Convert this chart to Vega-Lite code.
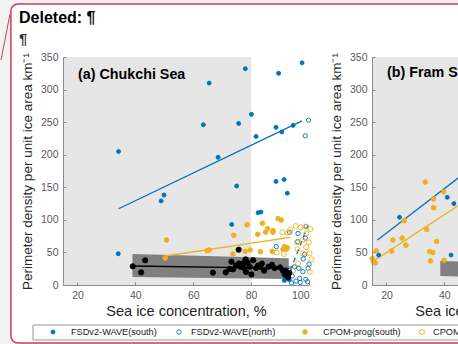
{
  "$schema": "https://vega.github.io/schema/vega-lite/v6.json",
  "background": "#f2f2f2",
  "padding": {"left": 0, "top": 3, "right": 0, "bottom": 0},
  "config": {
    "font": "Liberation Sans",
    "view": {"stroke": null},
    "axis": {
      "grid": false,
      "domainColor": "#8c8c8c",
      "tickColor": "#8c8c8c",
      "tickSize": -3,
      "labelPadding": 8,
      "labelColor": "#595959",
      "labelFontSize": 10.5,
      "titleColor": "#262626",
      "titleFontWeight": "normal",
      "labelFont": "Liberation Sans",
      "titleFont": "Liberation Sans"
    },
    "axisX": {"titleFontSize": 14.5, "titlePadding": 4},
    "axisY": {"titleFontSize": 13.5, "titlePadding": 6}
  },
  "datasets": {
    "frame": [
      {"x": -3, "xEnd": 158, "y": 431.4, "yEnd": -89}
    ],
    "connector": [
      {"x": -3.3, "xEnd": -6.42, "y": 416, "yEnd": 345.4}
    ],
    "memo": [
      {"label": "Deleted: ¶", "x": -0.2, "y": 402.2},
      {"label": "¶", "x": -0.2, "y": 370}
    ],
    "notes": [
      {"panel": "a", "label": "(a) Chukchi Sea", "x": 20.2, "y": 322.4},
      {"panel": "b", "label": "(b) Fram Strait", "x": 20.2, "y": 325.4}
    ],
    "keybox": [
      {"x": 4.63, "xEnd": 156, "y": -61.4, "yEnd": -84.4}
    ],
    "key": [
      {"series": "FSDv2-WAVE(south)", "x": 11.54, "lx": 17.76, "y": -72.1},
      {"series": "FSDv2-WAVE(north)", "x": 55.08, "lx": 59.23, "y": -72.1},
      {"series": "CPOM-prog(south)", "x": 98.62, "lx": 104.84, "y": -72.1},
      {"series": "CPOM-prog(north)", "x": 139.04, "lx": 142.85, "y": -72.1}
    ],
    "shade": [
      {"panel": "a", "x": 15, "xEnd": 80, "y": 0, "yEnd": 350},
      {"panel": "b", "x": 15, "xEnd": 100, "y": 0, "yEnd": 350}
    ],
    "bands": [
      {"panel": "a", "x": 39, "y": 12.3, "yEnd": 47.6},
      {"panel": "a", "x": 93, "y": 9.2, "yEnd": 41},
      {"panel": "b", "x": 38.6, "y": 14, "yEnd": 37},
      {"panel": "b", "x": 50, "y": 12.5, "yEnd": 35.5}
    ],
    "fits": [
      {"panel": "a", "fit": "FSDv2-WAVE(south)", "x": 34.2, "y": 117},
      {"panel": "a", "fit": "FSDv2-WAVE(south)", "x": 97.6, "y": 252},
      {"panel": "a", "fit": "FSDv2-WAVE(north)", "x": 93.5, "y": 22},
      {"panel": "a", "fit": "FSDv2-WAVE(north)", "x": 99.7, "y": 92},
      {"panel": "a", "fit": "CPOM-prog(south)", "x": 50.3, "y": 44.5},
      {"panel": "a", "fit": "CPOM-prog(south)", "x": 93.5, "y": 73},
      {"panel": "a", "fit": "Observations", "x": 39.1, "y": 29.2},
      {"panel": "a", "fit": "Observations", "x": 93.3, "y": 25.6},
      {"panel": "b", "fit": "FSDv2-WAVE(south)", "x": 16.9, "y": 69},
      {"panel": "b", "fit": "FSDv2-WAVE(south)", "x": 50, "y": 182},
      {"panel": "b", "fit": "CPOM-prog(south)", "x": 15.6, "y": 37},
      {"panel": "b", "fit": "CPOM-prog(south)", "x": 50, "y": 137}
    ],
    "pts": [
      {"panel": "a", "series": "FSDv2-WAVE(south)", "x": 34.2, "y": 205},
      {"panel": "a", "series": "FSDv2-WAVE(south)", "x": 65.5, "y": 310},
      {"panel": "a", "series": "FSDv2-WAVE(south)", "x": 78, "y": 332},
      {"panel": "a", "series": "FSDv2-WAVE(south)", "x": 89.5, "y": 325},
      {"panel": "a", "series": "FSDv2-WAVE(south)", "x": 97.6, "y": 341},
      {"panel": "a", "series": "FSDv2-WAVE(south)", "x": 63.5, "y": 246},
      {"panel": "a", "series": "FSDv2-WAVE(south)", "x": 75.7, "y": 248},
      {"panel": "a", "series": "FSDv2-WAVE(south)", "x": 80.1, "y": 262},
      {"panel": "a", "series": "FSDv2-WAVE(south)", "x": 81.7, "y": 228},
      {"panel": "a", "series": "FSDv2-WAVE(south)", "x": 88.6, "y": 242},
      {"panel": "a", "series": "FSDv2-WAVE(south)", "x": 90.6, "y": 235},
      {"panel": "a", "series": "FSDv2-WAVE(south)", "x": 94.5, "y": 245},
      {"panel": "a", "series": "FSDv2-WAVE(south)", "x": 68.6, "y": 196},
      {"panel": "a", "series": "FSDv2-WAVE(south)", "x": 48.9, "y": 129},
      {"panel": "a", "series": "FSDv2-WAVE(south)", "x": 49.9, "y": 138},
      {"panel": "a", "series": "FSDv2-WAVE(south)", "x": 75, "y": 152},
      {"panel": "a", "series": "FSDv2-WAVE(south)", "x": 88.6, "y": 159},
      {"panel": "a", "series": "FSDv2-WAVE(south)", "x": 91.4, "y": 162},
      {"panel": "a", "series": "FSDv2-WAVE(south)", "x": 92.5, "y": 141},
      {"panel": "a", "series": "FSDv2-WAVE(south)", "x": 82.4, "y": 111},
      {"panel": "a", "series": "FSDv2-WAVE(south)", "x": 83.4, "y": 112},
      {"panel": "a", "series": "FSDv2-WAVE(south)", "x": 73.3, "y": 93},
      {"panel": "a", "series": "FSDv2-WAVE(south)", "x": 34.1, "y": 48},
      {"panel": "a", "series": "FSDv2-WAVE(south)", "x": 92.6, "y": 10},
      {"panel": "a", "series": "FSDv2-WAVE(south)", "x": 93.2, "y": 8},
      {"panel": "a", "series": "FSDv2-WAVE(south)", "x": 92, "y": 12},
      {"panel": "a", "series": "FSDv2-WAVE(south)", "x": 91.5, "y": 7},
      {"panel": "a", "series": "FSDv2-WAVE(north)", "x": 99.8, "y": 253},
      {"panel": "a", "series": "FSDv2-WAVE(north)", "x": 98.7, "y": 229},
      {"panel": "a", "series": "FSDv2-WAVE(north)", "x": 88.7, "y": 59},
      {"panel": "a", "series": "FSDv2-WAVE(north)", "x": 93.3, "y": 81},
      {"panel": "a", "series": "FSDv2-WAVE(north)", "x": 96.2, "y": 79},
      {"panel": "a", "series": "FSDv2-WAVE(north)", "x": 96.1, "y": 66.5},
      {"panel": "a", "series": "FSDv2-WAVE(north)", "x": 98.5, "y": 47},
      {"panel": "a", "series": "FSDv2-WAVE(north)", "x": 98.7, "y": 72},
      {"panel": "a", "series": "FSDv2-WAVE(north)", "x": 95, "y": 28},
      {"panel": "a", "series": "FSDv2-WAVE(north)", "x": 96.5, "y": 25.6},
      {"panel": "a", "series": "FSDv2-WAVE(north)", "x": 93.3, "y": 24.6},
      {"panel": "a", "series": "FSDv2-WAVE(north)", "x": 97.9, "y": 20.4},
      {"panel": "a", "series": "FSDv2-WAVE(north)", "x": 99.7, "y": 25.6},
      {"panel": "a", "series": "FSDv2-WAVE(north)", "x": 94.2, "y": 13.8},
      {"panel": "a", "series": "FSDv2-WAVE(north)", "x": 96.8, "y": 10.2},
      {"panel": "a", "series": "FSDv2-WAVE(north)", "x": 98.9, "y": 8.7},
      {"panel": "a", "series": "FSDv2-WAVE(north)", "x": 92.7, "y": 9.7},
      {"panel": "a", "series": "FSDv2-WAVE(north)", "x": 92, "y": 14},
      {"panel": "a", "series": "FSDv2-WAVE(north)", "x": 99.5, "y": 5},
      {"panel": "a", "series": "FSDv2-WAVE(north)", "x": 97, "y": 4},
      {"panel": "a", "series": "FSDv2-WAVE(north)", "x": 95.5, "y": 6},
      {"panel": "a", "series": "FSDv2-WAVE(north)", "x": 94, "y": 3},
      {"panel": "a", "series": "FSDv2-WAVE(north)", "x": 98, "y": 40},
      {"panel": "a", "series": "FSDv2-WAVE(north)", "x": 100, "y": 32},
      {"panel": "a", "series": "FSDv2-WAVE(north)", "x": 99, "y": 90},
      {"panel": "a", "series": "CPOM-prog(south)", "x": 50.8, "y": 69},
      {"panel": "a", "series": "CPOM-prog(south)", "x": 64.8, "y": 52.7},
      {"panel": "a", "series": "CPOM-prog(south)", "x": 65.5, "y": 53.7},
      {"panel": "a", "series": "CPOM-prog(south)", "x": 50.3, "y": 41.4},
      {"panel": "a", "series": "CPOM-prog(south)", "x": 74, "y": 76.3},
      {"panel": "a", "series": "CPOM-prog(south)", "x": 78.6, "y": 92.6},
      {"panel": "a", "series": "CPOM-prog(south)", "x": 73.7, "y": 47.6},
      {"panel": "a", "series": "CPOM-prog(south)", "x": 78, "y": 51.7},
      {"panel": "a", "series": "CPOM-prog(south)", "x": 79.7, "y": 53.7},
      {"panel": "a", "series": "CPOM-prog(south)", "x": 82.3, "y": 77.8},
      {"panel": "a", "series": "CPOM-prog(south)", "x": 83.9, "y": 94.7},
      {"panel": "a", "series": "CPOM-prog(south)", "x": 85.7, "y": 86.4},
      {"panel": "a", "series": "CPOM-prog(south)", "x": 87.5, "y": 80.9},
      {"panel": "a", "series": "CPOM-prog(south)", "x": 89.3, "y": 101.8},
      {"panel": "a", "series": "CPOM-prog(south)", "x": 90.4, "y": 99.8},
      {"panel": "a", "series": "CPOM-prog(south)", "x": 83.2, "y": 51},
      {"panel": "a", "series": "CPOM-prog(south)", "x": 87.3, "y": 51.7},
      {"panel": "a", "series": "CPOM-prog(south)", "x": 83.1, "y": 33.3},
      {"panel": "a", "series": "CPOM-prog(south)", "x": 91.5, "y": 58.8},
      {"panel": "a", "series": "CPOM-prog(south)", "x": 92.5, "y": 57.3},
      {"panel": "a", "series": "CPOM-prog(south)", "x": 91, "y": 54.8},
      {"panel": "a", "series": "CPOM-prog(south)", "x": 85, "y": 81},
      {"panel": "a", "series": "CPOM-prog(south)", "x": 87.6, "y": 83.4},
      {"panel": "a", "series": "CPOM-prog(south)", "x": 92.2, "y": 55},
      {"panel": "a", "series": "CPOM-prog(north)", "x": 95.4, "y": 90.6},
      {"panel": "a", "series": "CPOM-prog(north)", "x": 97.1, "y": 88.6},
      {"panel": "a", "series": "CPOM-prog(north)", "x": 98.9, "y": 89.5},
      {"panel": "a", "series": "CPOM-prog(north)", "x": 100.5, "y": 86},
      {"panel": "a", "series": "CPOM-prog(north)", "x": 90.8, "y": 80.9},
      {"panel": "a", "series": "CPOM-prog(north)", "x": 99.1, "y": 79.3},
      {"panel": "a", "series": "CPOM-prog(north)", "x": 95.8, "y": 65.5},
      {"panel": "a", "series": "CPOM-prog(north)", "x": 97.7, "y": 69},
      {"panel": "a", "series": "CPOM-prog(north)", "x": 100, "y": 65.5},
      {"panel": "a", "series": "CPOM-prog(north)", "x": 100.2, "y": 48.6},
      {"panel": "a", "series": "CPOM-prog(north)", "x": 100.8, "y": 39.4},
      {"panel": "a", "series": "CPOM-prog(north)", "x": 96.2, "y": 33.3},
      {"panel": "a", "series": "CPOM-prog(north)", "x": 97.9, "y": 48.6},
      {"panel": "a", "series": "CPOM-prog(north)", "x": 91.3, "y": 47.6},
      {"panel": "a", "series": "CPOM-prog(north)", "x": 92.7, "y": 80.3},
      {"panel": "a", "series": "CPOM-prog(north)", "x": 93.5, "y": 85},
      {"panel": "a", "series": "CPOM-prog(north)", "x": 88.8, "y": 50},
      {"panel": "a", "series": "CPOM-prog(north)", "x": 96, "y": 55},
      {"panel": "a", "series": "CPOM-prog(north)", "x": 99, "y": 58},
      {"panel": "a", "series": "CPOM-prog(north)", "x": 94.5, "y": 22},
      {"panel": "a", "series": "CPOM-prog(north)", "x": 100.3, "y": 20},
      {"panel": "a", "series": "Observations", "x": 39.1, "y": 28.7},
      {"panel": "a", "series": "Observations", "x": 43.4, "y": 37.9},
      {"panel": "a", "series": "Observations", "x": 42, "y": 19.4},
      {"panel": "a", "series": "Observations", "x": 75.7, "y": 54.2},
      {"panel": "a", "series": "Observations", "x": 66.8, "y": 19},
      {"panel": "a", "series": "Observations", "x": 71.2, "y": 19.4},
      {"panel": "a", "series": "Observations", "x": 73.2, "y": 35.8},
      {"panel": "a", "series": "Observations", "x": 72.6, "y": 24.6},
      {"panel": "a", "series": "Observations", "x": 73.8, "y": 24},
      {"panel": "a", "series": "Observations", "x": 74.8, "y": 30},
      {"panel": "a", "series": "Observations", "x": 75.8, "y": 33},
      {"panel": "a", "series": "Observations", "x": 76.3, "y": 28},
      {"panel": "a", "series": "Observations", "x": 77, "y": 33},
      {"panel": "a", "series": "Observations", "x": 77.5, "y": 26},
      {"panel": "a", "series": "Observations", "x": 78.1, "y": 39.4},
      {"panel": "a", "series": "Observations", "x": 78.8, "y": 33.8},
      {"panel": "a", "series": "Observations", "x": 79.5, "y": 28},
      {"panel": "a", "series": "Observations", "x": 80.1, "y": 16.3},
      {"panel": "a", "series": "Observations", "x": 80.7, "y": 38},
      {"panel": "a", "series": "Observations", "x": 81.7, "y": 26},
      {"panel": "a", "series": "Observations", "x": 82.4, "y": 30},
      {"panel": "a", "series": "Observations", "x": 83.2, "y": 28},
      {"panel": "a", "series": "Observations", "x": 83.7, "y": 33},
      {"panel": "a", "series": "Observations", "x": 84.5, "y": 22},
      {"panel": "a", "series": "Observations", "x": 87.2, "y": 31},
      {"panel": "a", "series": "Observations", "x": 88.1, "y": 26},
      {"panel": "a", "series": "Observations", "x": 92.1, "y": 20.6},
      {"panel": "a", "series": "Observations", "x": 92.1, "y": 14.9},
      {"panel": "a", "series": "Observations", "x": 93.2, "y": 18.5},
      {"panel": "a", "series": "Observations", "x": 91.6, "y": 16.5},
      {"panel": "a", "series": "Observations", "x": 78.2, "y": 20},
      {"panel": "a", "series": "Observations", "x": 86, "y": 28},
      {"panel": "a", "series": "Observations", "x": 90, "y": 27},
      {"panel": "a", "series": "Observations", "x": 91, "y": 22},
      {"panel": "a", "series": "Observations", "x": 92.8, "y": 12},
      {"panel": "b", "series": "FSDv2-WAVE(south)", "x": 17.3, "y": 46},
      {"panel": "b", "series": "FSDv2-WAVE(south)", "x": 24.5, "y": 104},
      {"panel": "b", "series": "FSDv2-WAVE(south)", "x": 41, "y": 134.6},
      {"panel": "b", "series": "FSDv2-WAVE(south)", "x": 43.3, "y": 125},
      {"panel": "b", "series": "FSDv2-WAVE(south)", "x": 42.3, "y": 46},
      {"panel": "b", "series": "CPOM-prog(south)", "x": 33.4, "y": 157.8},
      {"panel": "b", "series": "CPOM-prog(south)", "x": 39.8, "y": 143},
      {"panel": "b", "series": "CPOM-prog(south)", "x": 36.3, "y": 132},
      {"panel": "b", "series": "CPOM-prog(south)", "x": 36.3, "y": 118.7},
      {"panel": "b", "series": "CPOM-prog(south)", "x": 26.1, "y": 98.7},
      {"panel": "b", "series": "CPOM-prog(south)", "x": 25.4, "y": 72},
      {"panel": "b", "series": "CPOM-prog(south)", "x": 22.2, "y": 69},
      {"panel": "b", "series": "CPOM-prog(south)", "x": 26.7, "y": 61.2},
      {"panel": "b", "series": "CPOM-prog(south)", "x": 33.9, "y": 85.3},
      {"panel": "b", "series": "CPOM-prog(south)", "x": 37.3, "y": 66.8},
      {"panel": "b", "series": "CPOM-prog(south)", "x": 21.8, "y": 52},
      {"panel": "b", "series": "CPOM-prog(south)", "x": 16.5, "y": 52.4},
      {"panel": "b", "series": "CPOM-prog(south)", "x": 15.1, "y": 40.6},
      {"panel": "b", "series": "CPOM-prog(south)", "x": 15.5, "y": 36},
      {"panel": "b", "series": "CPOM-prog(south)", "x": 16.2, "y": 33.6},
      {"panel": "b", "series": "CPOM-prog(south)", "x": 34.9, "y": 51.3},
      {"panel": "b", "series": "CPOM-prog(south)", "x": 36, "y": 49.8},
      {"panel": "b", "series": "CPOM-prog(south)", "x": 35.2, "y": 37},
      {"panel": "b", "series": "CPOM-prog(south)", "x": 39.9, "y": 38}
    ]
  },
  "bounds": "flush",
  "spacing": 63,
  "resolve": {
    "scale": {"fill": "independent", "stroke": "independent", "size": "independent"},
    "legend": {"fill": "independent", "stroke": "independent"}
  },
  "hconcat": [
    {
      "width": 246,
      "height": 228,
      "encoding": {
        "x": {"field": "x", "type": "quantitative", "title": "Sea ice concentration, %", "scale": {"domain": [15, 100], "nice": false, "zero": false}, "axis": {"values": [20, 40, 60, 80, 100], "zindex": 2}},
        "y": {"field": "y", "type": "quantitative", "title": "Perimeter density per unit ice area km⁻¹", "scale": {"domain": [0, 350], "nice": false}, "axis": {"values": [0, 50, 100, 150, 200, 250, 300, 350], "zindex": 2}}
      },
      "layer": [
        {
          "data": {"name": "frame"},
          "mark": {"type": "rect", "fill": "#ffffff", "stroke": "#cf3a5c", "strokeWidth": 1.5, "cornerRadius": 7},
          "encoding": {"x2": {"field": "xEnd"}, "y2": {"field": "yEnd"}}
        },
        {
          "data": {"name": "connector"},
          "mark": {"type": "rule", "color": "#cf3a5c", "strokeWidth": 1},
          "encoding": {"x2": {"field": "xEnd"}, "y2": {"field": "yEnd"}}
        },
        {
          "data": {"name": "memo"},
          "transform": [{"filter": "datum.label === 'Deleted: ¶'"}],
          "mark": {"type": "text", "align": "left", "baseline": "alphabetic", "fontSize": 16, "fontWeight": "bold", "color": "#000000"},
          "encoding": {"text": {"field": "label"}}
        },
        {
          "data": {"name": "memo"},
          "transform": [{"filter": "datum.label === '¶'"}],
          "mark": {"type": "text", "align": "left", "baseline": "alphabetic", "fontSize": 15, "fontWeight": "bold", "color": "#3a3a3a"},
          "encoding": {"text": {"field": "label"}}
        },
        {"data": {"name": "shade"}, "transform": [{"filter": "datum.panel === 'a'"}], "mark": {"type": "rect", "color": "#e6e6e6"}, "encoding": {"x2": {"field": "xEnd"}, "y2": {"field": "yEnd"}}},
        {"data": {"name": "bands"}, "transform": [{"filter": "datum.panel === 'a'"}], "mark": {"type": "area", "color": "#808080", "opacity": 1}, "encoding": {"y2": {"field": "yEnd"}}},
        {"data": {"name": "fits"}, "transform": [{"filter": "datum.panel === 'a' && datum.fit === 'FSDv2-WAVE(south)'"}], "mark": {"type": "line", "color": "#0072bd", "strokeWidth": 1.3}, "encoding": {}},
        {"data": {"name": "fits"}, "transform": [{"filter": "datum.panel === 'a' && datum.fit === 'FSDv2-WAVE(north)'"}], "mark": {"type": "line", "color": "#0072bd", "strokeWidth": 1.3, "strokeDash": [5, 4]}, "encoding": {}},
        {"data": {"name": "fits"}, "transform": [{"filter": "datum.panel === 'a' && datum.fit === 'CPOM-prog(south)'"}], "mark": {"type": "line", "color": "#edb120", "strokeWidth": 1.3}, "encoding": {}},
        {"data": {"name": "fits"}, "transform": [{"filter": "datum.panel === 'a' && datum.fit === 'Observations'"}], "mark": {"type": "line", "color": "#000000", "strokeWidth": 1.3}, "encoding": {}},
        {
          "data": {"name": "pts"},
          "transform": [{"filter": "datum.panel === 'a'"}],
          "mark": {"type": "point", "shape": "circle", "opacity": 1, "strokeWidth": 0.9},
          "encoding": {
            "fill": {"field": "series", "type": "nominal", "title": null,
              "scale": {"domain": ["FSDv2-WAVE(south)", "FSDv2-WAVE(north)", "CPOM-prog(south)", "CPOM-prog(north)", "Observations"], "range": ["#0072bd", "transparent", "#edb120", "transparent", "#000000"]},
              "legend": null},
            "stroke": {"field": "series", "type": "nominal", "title": null,
              "scale": {"domain": ["FSDv2-WAVE(south)", "FSDv2-WAVE(north)", "CPOM-prog(south)", "CPOM-prog(north)", "Observations"], "range": ["#0072bd", "#0072bd", "#edb120", "#edb120", "#000000"]},
              "legend": null},
            "size": {"field": "series", "type": "nominal",
              "scale": {"domain": ["FSDv2-WAVE(south)", "FSDv2-WAVE(north)", "CPOM-prog(south)", "CPOM-prog(north)", "Observations"], "range": [16, 28, 16, 28, 16]},
              "legend": null}
          }
        },
        {
          "data": {"name": "notes"},
          "transform": [{"filter": "datum.panel === 'a'"}],
          "mark": {"type": "text", "align": "left", "baseline": "middle", "fontSize": 14.3, "fontWeight": "bold", "color": "#000000"},
          "encoding": {"text": {"field": "label"}}
        },
        {
          "data": {"name": "keybox"},
          "mark": {"type": "rect", "fill": "#ffffff", "stroke": "#9a9a9a", "strokeWidth": 1},
          "encoding": {"x2": {"field": "xEnd"}, "y2": {"field": "yEnd"}}
        },
        {
          "data": {"name": "key"},
          "mark": {"type": "point", "shape": "circle", "opacity": 1, "strokeWidth": 0.9},
          "encoding": {
            "fill": {"field": "series", "type": "nominal", "legend": null},
            "stroke": {"field": "series", "type": "nominal", "legend": null},
            "size": {"field": "series", "type": "nominal", "legend": null}
          }
        },
        {
          "data": {"name": "key"},
          "mark": {"type": "text", "align": "left", "baseline": "middle", "fontSize": 9.2, "color": "#1a1a1a"},
          "encoding": {
            "x": {"field": "lx", "type": "quantitative", "title": "Sea ice concentration, %"},
            "text": {"field": "series"}
          }
        }
      ]
    },
    {
      "width": 246,
      "height": 228,
      "encoding": {
        "x": {"field": "x", "type": "quantitative", "title": "Sea ice concentration, %", "scale": {"domain": [15, 100], "nice": false, "zero": false}, "axis": {"values": [20, 40, 60, 80, 100], "zindex": 2}},
        "y": {"field": "y", "type": "quantitative", "title": "Perimeter density per unit ice area km⁻¹", "scale": {"domain": [0, 350], "nice": false}, "axis": {"values": [0, 50, 100, 150, 200, 250, 300, 350], "zindex": 2}}
      },
      "layer": [
        {"data": {"name": "shade"}, "transform": [{"filter": "datum.panel === 'b'"}], "mark": {"type": "rect", "color": "#e6e6e6"}, "encoding": {"x2": {"field": "xEnd"}, "y2": {"field": "yEnd"}}},
        {"data": {"name": "bands"}, "transform": [{"filter": "datum.panel === 'b'"}], "mark": {"type": "area", "color": "#808080", "opacity": 1}, "encoding": {"y2": {"field": "yEnd"}}},
        {"data": {"name": "fits"}, "transform": [{"filter": "datum.panel === 'b' && datum.fit === 'FSDv2-WAVE(south)'"}], "mark": {"type": "line", "color": "#0072bd", "strokeWidth": 1.3}, "encoding": {}},
        {"data": {"name": "fits"}, "transform": [{"filter": "datum.panel === 'b' && datum.fit === 'CPOM-prog(south)'"}], "mark": {"type": "line", "color": "#edb120", "strokeWidth": 1.3}, "encoding": {}},
        {
          "data": {"name": "pts"},
          "transform": [{"filter": "datum.panel === 'b'"}],
          "mark": {"type": "point", "shape": "circle", "opacity": 1, "strokeWidth": 0.9},
          "encoding": {
            "fill": {"field": "series", "type": "nominal", "title": null,
              "scale": {"domain": ["FSDv2-WAVE(south)", "FSDv2-WAVE(north)", "CPOM-prog(south)", "CPOM-prog(north)", "Observations"], "range": ["#0072bd", "transparent", "#edb120", "transparent", "#000000"]},
              "legend": null},
            "stroke": {"field": "series", "type": "nominal", "title": null,
              "scale": {"domain": ["FSDv2-WAVE(south)", "FSDv2-WAVE(north)", "CPOM-prog(south)", "CPOM-prog(north)", "Observations"], "range": ["#0072bd", "#0072bd", "#edb120", "#edb120", "#000000"]},
              "legend": null},
            "size": {"field": "series", "type": "nominal",
              "scale": {"domain": ["FSDv2-WAVE(south)", "FSDv2-WAVE(north)", "CPOM-prog(south)", "CPOM-prog(north)", "Observations"], "range": [16, 28, 16, 28, 16]},
              "legend": null}
          }
        },
        {
          "data": {"name": "notes"},
          "transform": [{"filter": "datum.panel === 'b'"}],
          "mark": {"type": "text", "align": "left", "baseline": "middle", "fontSize": 14.3, "fontWeight": "bold", "color": "#000000"},
          "encoding": {"text": {"field": "label"}}
        }
      ]
    }
  ]
}
